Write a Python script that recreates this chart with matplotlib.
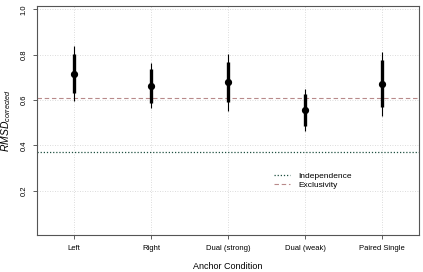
import numpy as np
import matplotlib
matplotlib.use("Agg")
import matplotlib.pyplot as plt

plt.rcParams['font.family'] = ['Liberation Sans', 'DejaVu Sans']
plt.rcParams['mathtext.fontset'] = 'custom'
plt.rcParams['mathtext.it'] = 'Liberation Sans:italic'
plt.rcParams['mathtext.rm'] = 'Liberation Sans'

# Donnees
conditions = ["Left", "Right", "Dual (strong)", "Dual (weak)", "Paired Single"]
rmsd_mean  = [0.716, 0.663, 0.679, 0.556, 0.673]
inner_low  = [0.630, 0.588, 0.591, 0.487, 0.570]
inner_high = [0.803, 0.735, 0.766, 0.626, 0.776]
outer_low  = [0.597, 0.563, 0.553, 0.463, 0.531]
outer_high = [0.838, 0.762, 0.803, 0.651, 0.813]

independence = 0.373
exclusivity  = 0.610

yticks = [0.2, 0.4, 0.6, 0.8, 1.0]

fig = plt.figure(figsize=(4.23, 2.72), dpi=100)
ax = fig.add_axes([0.0875, 0.136, 0.903, 0.842])

x = np.arange(1, len(conditions) + 1)

# grille pointillee
for xv in x:
    ax.axvline(xv, color="#d0d0d0", lw=0.6, ls=(0, (1, 2)), zorder=0)
for yv in yticks:
    ax.axhline(yv, color="#d0d0d0", lw=0.6, ls=(0, (1, 2)), zorder=0)

# lignes de reference
ax.axhline(independence, color="#1f5040", lw=0.9, ls=(0, (1, 1.5)), label="Independence", zorder=1)
ax.axhline(exclusivity, color="#b88a8a", lw=0.8, ls=(0, (4, 2.5)), label="Exclusivity", zorder=1)

# intervalles
ax.vlines(x, outer_low, outer_high, color="black", lw=0.8, zorder=2)
ax.vlines(x, inner_low, inner_high, color="black", lw=2.4, zorder=3)
ax.plot(x, rmsd_mean, "o", color="black", ms=4.2, zorder=4)

ax.set_xlim(0.52, 5.48)
ax.set_ylim(0.005, 1.015)
ax.set_xticks(x)
ax.set_xticklabels(conditions, fontsize=5.5)
ax.set_yticks(yticks)
ax.set_yticklabels([f"{v:.1f}" for v in yticks], fontsize=5.5, rotation=90, va="center")
ax.tick_params(axis="both", length=3, width=0.6, color="#444444", pad=4)

for sp in ax.spines.values():
    sp.set_color("#555555")
    sp.set_linewidth(0.8)

ax.set_xlabel("Anchor Condition", fontsize=6.5)
ax.xaxis.set_label_coords(0.5, -0.118)
ax.set_ylabel(r"$RMSD_{corrected}$", fontsize=7.5)
ax.yaxis.set_label_coords(-0.062, 0.5)

ax.legend(loc="upper left", bbox_to_anchor=(0.62, 0.275), frameon=False,
          fontsize=6, handlelength=2.0, handletextpad=0.9, labelspacing=0.2,
          borderpad=0, borderaxespad=0)

fig.savefig("out.png", dpi=100)
